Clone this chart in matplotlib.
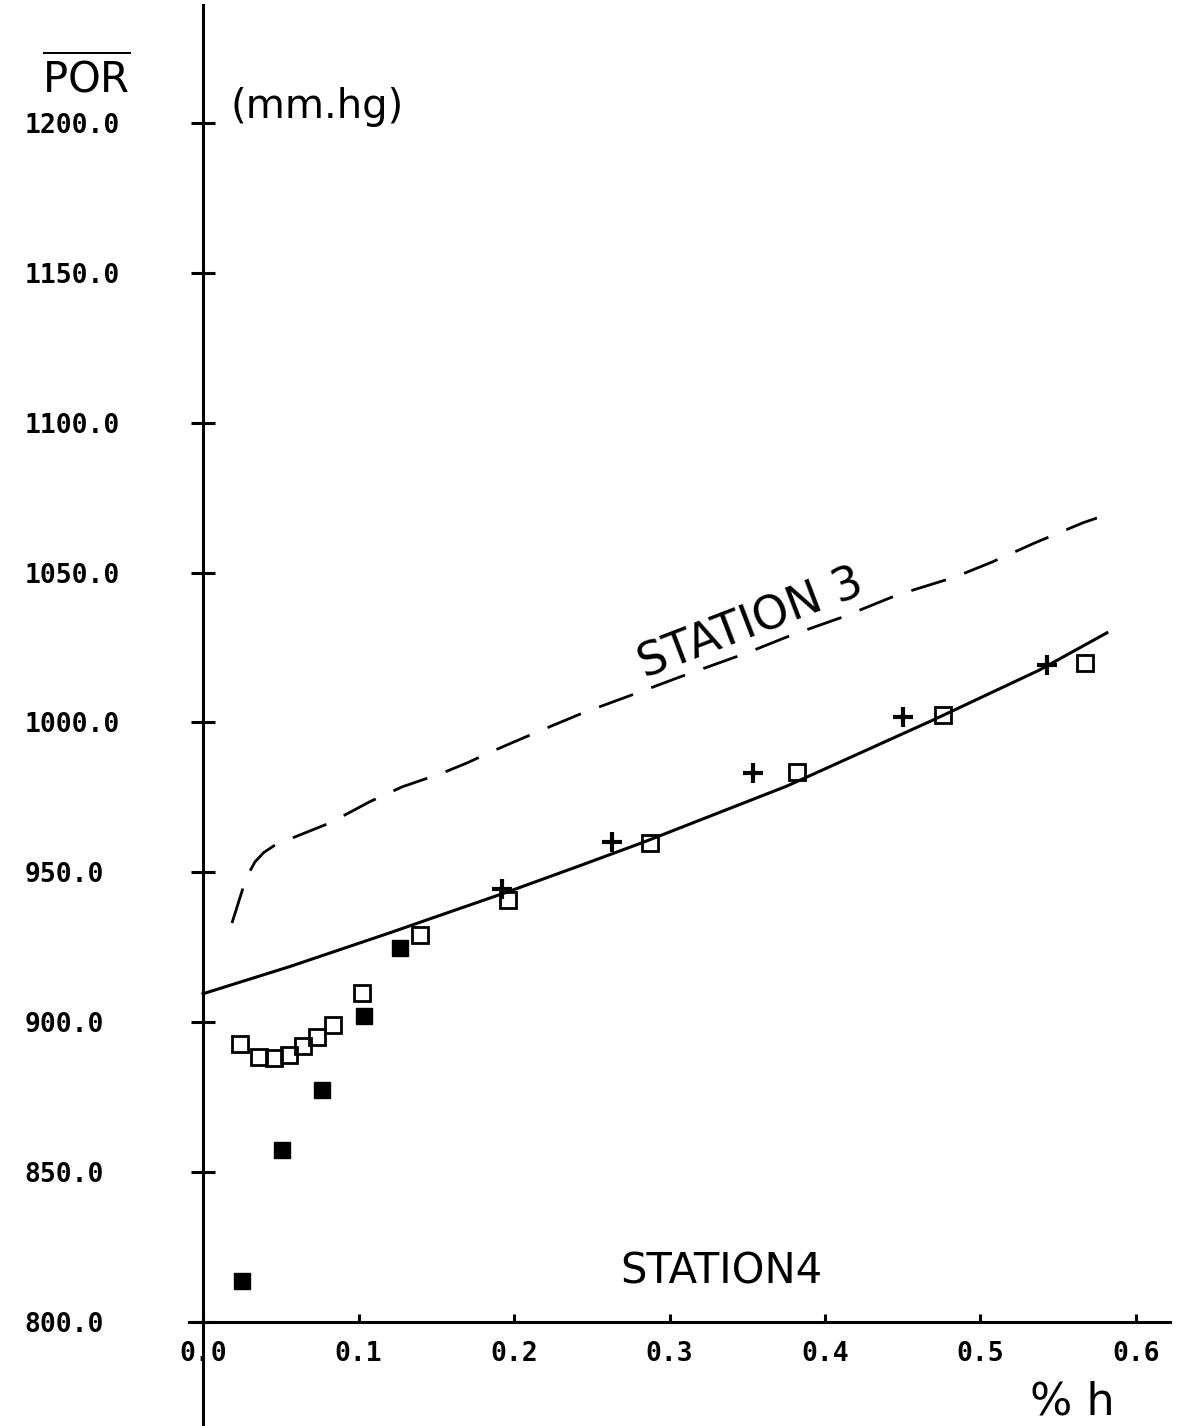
import matplotlib
matplotlib.use('Agg')
import matplotlib.pyplot as plt

# station 3 (dashed curve)
st3_x = [0.0186, 0.0225, 0.0257, 0.0289, 0.0334, 0.039, 0.0463, 0.0624, 0.0817,
         0.1074, 0.128, 0.1543, 0.1698, 0.1897, 0.2148, 0.2444, 0.2791, 0.3068,
         0.3498, 0.3788, 0.4116, 0.4463, 0.4836, 0.5074, 0.535, 0.5659, 0.5749]
st3_y = [933.1, 939.5, 944.8, 949.2, 953.5, 956.6, 959.1, 962.5, 966.5,
         973.6, 978.5, 983.2, 986.5, 991.2, 996.8, 1003.2, 1009.8, 1015.2,
         1023.2, 1029.2, 1035.2, 1042.5, 1048.5, 1053.5, 1059.9, 1066.6, 1068.2]

# station 4 fitted curve (solid)
fit_x = [0.0, 0.056, 0.12, 0.146, 0.1955, 0.2444, 0.283, 0.3756, 0.4695, 0.538, 0.5813]
fit_y = [909.5, 918.6, 929.8, 934.5, 943.4, 952.6, 960.0, 978.8, 1000.8, 1017.5, 1029.9]

# station 4 measured points
open_x = [0.0238, 0.0362, 0.0459, 0.0553, 0.0641, 0.0731, 0.0838, 0.102, 0.1395,
          0.1963, 0.2875, 0.3818, 0.4761, 0.5672]
open_y = [892.7, 888.3, 888.0, 889.1, 892.1, 895.2, 899.1, 909.9, 929.1,
          940.8, 959.7, 983.6, 1002.5, 1019.8]

plus_x = [0.1921, 0.2628, 0.3539, 0.4504, 0.5425]
plus_y = [944.6, 960.2, 983.0, 1001.9, 1019.2]

filled_x = [0.0249, 0.0508, 0.0763, 0.1035, 0.1267]
filled_y = [813.7, 857.4, 877.4, 902.1, 924.8]

y_ticks = [800, 850, 900, 950, 1000, 1050, 1100, 1150, 1200]
y_labels = ['800.0', '850.0', '900.0', '950.0', '1000.0', '1050.0',
            '1100.0', '1150.0', '1200.0']
x_ticks = [0.0, 0.1, 0.2, 0.3, 0.4, 0.5, 0.6]
x_labels = ['0.0', '0.1', '0.2', '0.3', '0.4', '0.5', '0.6']

fig = plt.figure(figsize=(11.84, 14.26), dpi=100)
ax = fig.add_axes([0, 0, 1, 1])
ax.set_xlim(-0.1306, 0.6309)
ax.set_ylim(765.3, 1241.0)

for s in ['top', 'right']:
    ax.spines[s].set_visible(False)
ax.spines['left'].set_position(('data', 0))
ax.spines['bottom'].set_position(('data', 800))
ax.spines['left'].set_bounds(765.3, 1239.4)
ax.spines['bottom'].set_bounds(-0.009, 0.622)
ax.spines['left'].set_linewidth(2.2)
ax.spines['bottom'].set_linewidth(2.2)

tick_font = dict(family='DejaVu Sans Mono', weight='bold', size=19)
ax.set_yticks(y_ticks)
ax.set_yticklabels(y_labels, ha='left', fontdict=tick_font)
ax.tick_params(axis='y', direction='inout', length=17, width=2.2, pad=120)
ax.set_xticks(x_ticks)
ax.set_xticklabels(x_labels, fontdict=tick_font)
ax.tick_params(axis='x', direction='in', length=6, width=2.2, pad=14)

ax.plot(st3_x, st3_y, color='black', lw=2.0, dashes=(13, 7))
ax.plot(fit_x, fit_y, color='black', lw=2.2)
ax.plot(open_x, open_y, 's', ms=11, mfc='none', mec='black', mew=2.0)
ax.plot(plus_x, plus_y, '+', ms=14, mew=3, color='black')
ax.plot(filled_x, filled_y, 's', ms=12, color='black')

ax.text(-0.1035, 1210.3, r'$\overline{\mathrm{POR}}$', fontsize=30,
        ha='left', va='baseline')
ax.text(0.0174, 1201.7, '(mm.hg)', fontsize=29, ha='left', va='baseline')
ax.text(0.2842, 1014.8, 'STATION 3', fontsize=33, rotation=21,
        rotation_mode='anchor', ha='left', va='baseline')
ax.text(0.268, 813.0, 'STATION4', fontsize=30, ha='left', va='baseline')
ax.text(0.532, 766.0, '% h', fontsize=32, ha='left', va='bottom')

fig.savefig('out.png', dpi=100)
